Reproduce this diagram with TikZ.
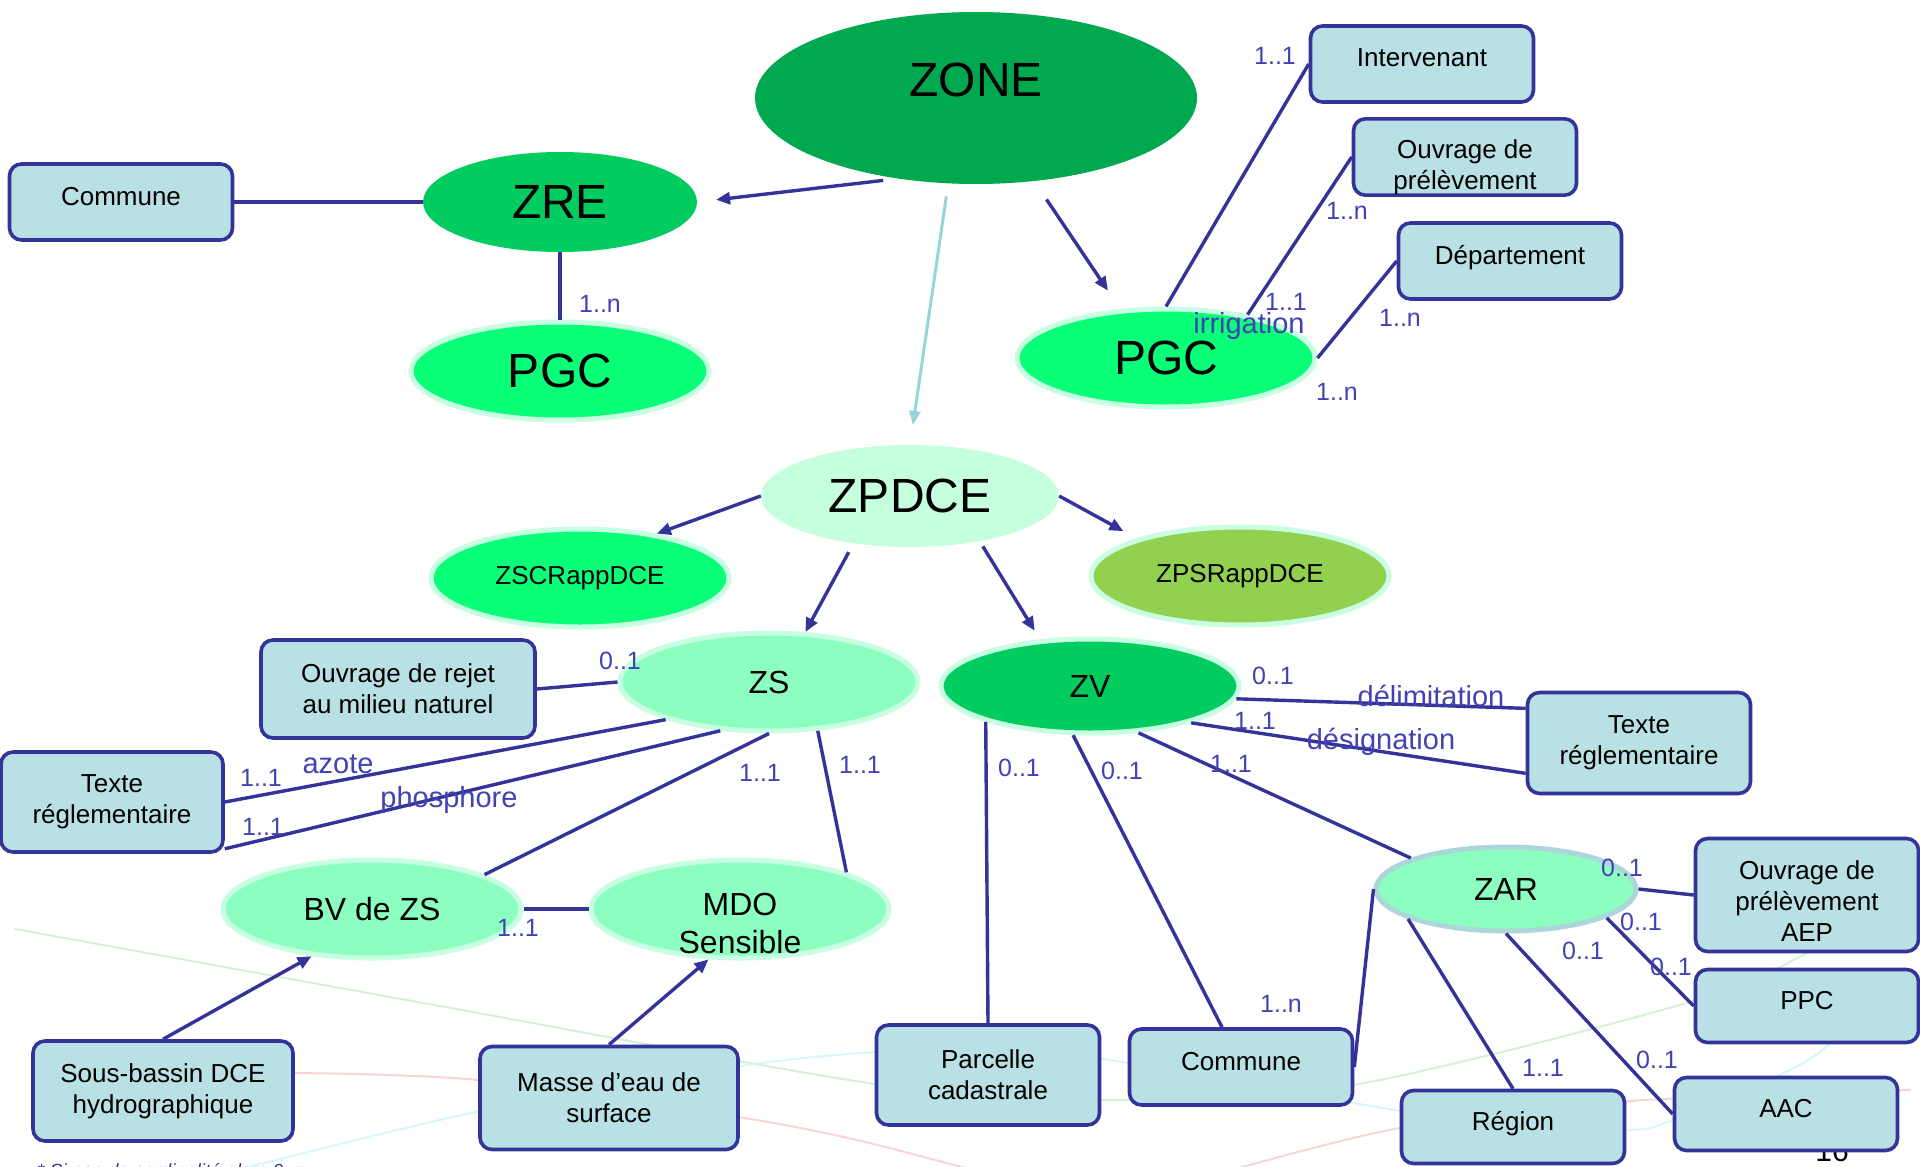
\documentclass[tikz,border=0pt]{standalone}
\usepackage{fontspec}
\setmainfont{Liberation Sans}
\usepackage{tikz}
\usetikzlibrary{shapes.geometric,arrows.meta,positioning,calc}

\definecolor{navy}{RGB}{51,51,153}
\definecolor{cardblue}{RGB}{66,66,178}
\definecolor{boxfill}{RGB}{185,224,228}
\definecolor{zonegreen}{RGB}{0,168,80}
\definecolor{midgreen}{RGB}{0,204,96}
\definecolor{brightgreen}{RGB}{10,255,120}
\definecolor{mint}{RGB}{140,255,192}
\definecolor{palemint}{RGB}{198,255,222}
\definecolor{olive}{RGB}{146,208,80}
\definecolor{rimmint}{RGB}{200,255,226}
\definecolor{rimgrey}{RGB}{172,214,218}
\definecolor{tealline}{RGB}{150,212,216}
\definecolor{bggreen}{RGB}{214,240,214}
\definecolor{bgred}{RGB}{250,212,212}
\definecolor{bgcyan}{RGB}{212,248,252}

\newcommand{\lowered}[1]{\raisebox{-14pt}[\height][\depth]{#1}}

\begin{document}
\begin{tikzpicture}[
    x=1pt, y=-1pt,
    ent/.style={ellipse, inner sep=0pt, align=center, font=\fontsize{32}{38}\selectfont},
    bigent/.style={ent, font=\fontsize{48}{56}\selectfont},
    rim/.style={draw=rimmint, line width=5pt},
    box/.style={rectangle, rounded corners=12pt, draw=navy, line width=3.6pt, fill=boxfill, minimum width=223pt, inner sep=0pt, align=center, font=\fontsize{26}{31}\selectfont},
    onebox/.style={box, text depth=12pt},
    link/.style={draw=navy, line width=3.4pt},
    arr/.style={link, -{Triangle[length=14pt,width=12pt]}},
    card/.style={text=cardblue, inner sep=0pt, font=\fontsize{25}{28}\selectfont},
    rel/.style={text=cardblue, inner sep=0pt, font=\fontsize{29}{32}\selectfont},
    faint/.style={line width=2pt, line cap=round},
]
    \useasboundingbox (0,0) rectangle (1920,1167);
    \clip (0,0) rectangle (1920,1167);

    \draw[faint, bggreen] plot[smooth] coordinates {(15,929) (440,1006) (876,1084) (1108,1100) (1353,1085) (1690,1002) (1812,950) (1915,880)};
    \draw[faint, bgred] plot[smooth] coordinates {(294,1073) (478,1080) (738,1117) (857,1140) (980,1172)};
    \draw[faint, bgred] plot[smooth] coordinates {(1225,1172) (1400,1128) (1630,1101) (1910,1090)};
    \draw[faint, bgcyan] plot[smooth] coordinates {(237,1170) (476,1112) (741,1066) (876,1052) (1000,1048) (1110,1060) (1353,1103) (1500,1125) (1629,1130) (1673,1120) (1790,1070) (1837,1037) (1870,990)};

    \node[anchor=base west, text=navy, inner sep=0pt, font=\itshape\fontsize{19}{22}\selectfont] (note) at (37,1177) {* Si pas de cardinalité alors 0..n};
    \node[anchor=base, inner sep=0pt, font=\fontsize{30}{34}\selectfont] (pagenum) at (1832,1161) {16};

    \node[bigent, fill=zonegreen, minimum width=442pt, minimum height=172pt, text depth=36pt] (zone) at (976,98) {ZONE};
    \node[bigent, fill=midgreen, minimum width=274pt, minimum height=100pt] (zre) at (560,202) {ZRE};
    \node[bigent, rim, fill=brightgreen, minimum width=298pt, minimum height=98pt] (pgcL) at (560,371) {PGC};
    \node[bigent, rim, fill=brightgreen, minimum width=298pt, minimum height=98pt] (pgcR) at (1166,358) {PGC};
    \node[bigent, fill=palemint, minimum width=298pt, minimum height=102pt] (zpdce) at (910,496) {ZPDCE};
    \node[ent, rim, fill=brightgreen, minimum width=298pt, minimum height=98pt, font=\fontsize{26}{30}\selectfont] (zscr) at (580,578) {ZSCRappDCE};
    \node[ent, rim, fill=olive, minimum width=298pt, minimum height=98pt, font=\fontsize{26}{30}\selectfont] (zpsr) at (1240,576) {ZPSRappDCE};
    \node[ent, rim, fill=mint, minimum width=298pt, minimum height=98pt] (zs) at (769,682) {ZS};
    \node[ent, rim, fill=midgreen, minimum width=298pt, minimum height=94pt] (zv) at (1090,686) {ZV};
    \node[ent, rim, fill=mint, minimum width=298pt, minimum height=98pt] (bv) at (372,909) {BV de ZS};
    \node[ent, rim, fill=mint, minimum width=298pt, minimum height=98pt] (mdo) at (740,909) {\lowered{MDO}\\\lowered{Sensible}};
    \node[ent, draw=rimgrey, line width=5pt, fill=mint, minimum width=260pt, minimum height=84pt] (zar) at (1506,889) {ZAR};

    \node[onebox, minimum height=76pt] (commune1) at (121,202) {Commune};
    \node[onebox, minimum height=76pt] (interv) at (1422,64) {Intervenant};
    \node[box, minimum height=75pt, text height=71pt] (ouv1) at (1465,157) {Ouvrage de\\prélèvement};
    \node[onebox, minimum height=76pt] (depart) at (1510,261) {Département};
    \node[box, minimum width=274pt, minimum height=98pt] (rejet) at (398,689) {Ouvrage de rejet\\au milieu naturel};
    \node[box, minimum width=222pt, minimum height=100pt] (texte1) at (112,802) {Texte\\réglementaire};
    \node[box, minimum height=101pt] (texte2) at (1639,743) {Texte\\réglementaire};
    \node[box, minimum height=113pt, text height=93pt] (aep) at (1807,895) {Ouvrage de\\prélèvement\\AEP};
    \node[onebox, minimum height=73pt] (ppc) at (1807,1006) {PPC};
    \node[onebox, minimum height=73pt] (aac) at (1786,1114) {AAC};
    \node[onebox, minimum height=73pt] (region) at (1513,1127) {Région};
    \node[onebox, minimum height=76pt] (commune2) at (1241,1067) {Commune};
    \node[box, minimum height=100pt] (parcelle) at (988,1075) {Parcelle\\cadastrale};
    \node[box, minimum width=258pt, minimum height=103pt] (masse) at (609,1098) {Masse d’eau de\\surface};
    \node[box, minimum width=260pt, minimum height=100pt] (sous) at (163,1091) {Sous-bassin DCE\\hydrographique};

    \draw[arr, shorten <=15pt, shorten >=19pt] (zone.226) -- (zre.east);
    \draw[arr, shorten <=22pt, shorten >=22pt] (zone.305) -- (pgcR.133);
    \draw[draw=tealline, line width=3pt, -{Triangle[length=14pt,width=11pt]}, shorten <=13pt, shorten >=20pt] (zone.252) -- (zpdce.north);
    \draw[link] (zre.south) -- (pgcL.north);
    \draw[link] (commune1.east) -- (zre.west);
    \draw[link] (pgcR.north) -- (interv.west);
    \draw[link] (pgcR.28) -- (ouv1.west);
    \draw[link] (pgcR.east) -- (depart.west);
    \draw[arr] (zpdce.west) -- (zscr.30);
    \draw[arr, shorten >=15pt] (zpdce.east) -- (zpsr.160);
    \draw[arr, shorten <=10pt] (zpdce.220) -- (zs.54);
    \draw[arr, shorten <=6pt, shorten >=10pt] (zpdce.327) -- (zv.137);
    \draw[link] (rejet.east) -- (zs.west);
    \draw[link] (zs.200) -- (texte1.east);
    \draw[link] (zs.225) -- ([yshift=5pt]texte1.south east);
    \draw[link] (zs.south) -- (bv.17);
    \draw[link] (zs.315) -- (mdo.19);
    \draw[link] (bv.east) -- (mdo.west);
    \draw[arr] (sous.north) -- (bv.218);
    \draw[arr] (masse.north) -- (mdo.238);
    \draw[link] (zv.355) -- (texte2.163);
    \draw[link] (zv.340) -- (texte2.195);
    \draw[link] (zv.199) -- (parcelle.north);
    \draw[link] (zv.251) -- ([xshift=-19pt]commune2.north);
    \draw[link] (zv.316) -- (zar.162);
    \draw[link] (zar.west) -- (commune2.east);
    \draw[link] (zar.east) -- (aep.west);
    \draw[link] (zar.344) -- (ppc.west);
    \draw[link] (zar.south) -- (aac.west);
    \draw[link] (zar.197) -- (region.north);

    \node[card] (k1) at (600,304) {1..n};
    \node[card] (k2) at (1275,56) {1..1};
    \node[card] (k3) at (1347,211) {1..n};
    \node[card] (k4) at (1286,302) {1..1};
    \node[rel] (r1) at (1249,326) {irrigation};
    \node[card] (k5) at (1400,318) {1..n};
    \node[card] (k6) at (1337,392) {1..n};
    \node[card] (k7) at (620,661) {0..1};
    \node[rel] (r2) at (338,764) {azote};
    \node[card] (k8) at (261,778) {1..1};
    \node[rel] (r3) at (449,800) {phosphore};
    \node[card] (k9) at (263,827) {1..1};
    \node[card] (k10) at (760,773) {1..1};
    \node[card] (k11) at (860,765) {1..1};
    \node[card] (k12) at (518,928) {1..1};
    \node[card] (k13) at (1273,676) {0..1};
    \node[rel] (r4) at (1431,696) {délimitation};
    \node[card] (k14) at (1255,721) {1..1};
    \node[rel] (r5) at (1381,742) {désignation};
    \node[card] (k15) at (1019,768) {0..1};
    \node[card] (k16) at (1122,771) {0..1};
    \node[card] (k17) at (1231,764) {1..1};
    \node[card] (k18) at (1281,1004) {1..n};
    \node[card] (k19) at (1622,868) {0..1};
    \node[card] (k20) at (1641,922) {0..1};
    \node[card] (k21) at (1671,967) {0..1};
    \node[card] (k22) at (1583,951) {0..1};
    \node[card] (k23) at (1657,1060) {0..1};
    \node[card] (k24) at (1543,1068) {1..1};
\end{tikzpicture}
\end{document}
